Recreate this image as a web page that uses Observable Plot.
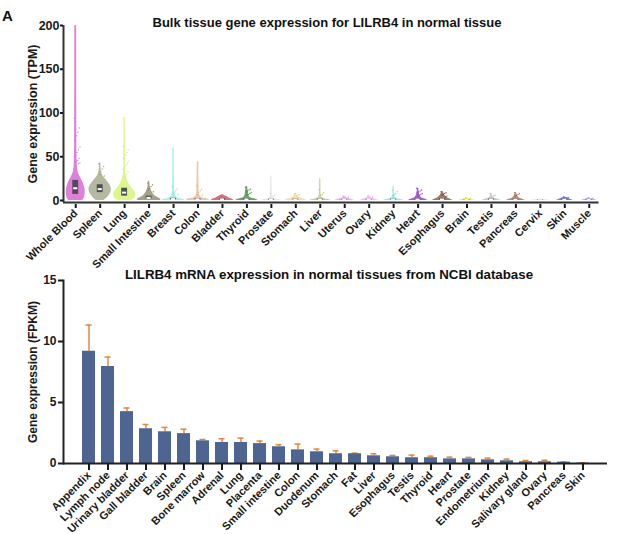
<!DOCTYPE html>
<html>
<head>
<meta charset="utf-8">
<script src="https://cdn.jsdelivr.net/npm/d3@7"></script>
<script src="https://cdn.jsdelivr.net/npm/@observablehq/plot@0.6"></script>
<style>
  body { margin: 0; background: #fff; font-family: "Liberation Sans", Arial, sans-serif; }
  #page { position: relative; width: 620px; height: 534px; overflow: hidden; }
  .panel { position: absolute; left: 0; }
  .title { position: absolute; font-weight: bold; font-size: 13px; line-height: 13px; color: #111; white-space: nowrap; transform: translateX(-50%); }
  .tag { position: absolute; left: 2px; top: 8px; font-weight: bold; font-size: 15px; line-height: 15px; color: #111; }
</style>
</head>
<body>
<div id="page">
  <div class="tag">A</div>
  <div class="title" style="left:327px; top:16px;">Bulk tissue gene expression for LILRB4 in normal tissue</div>
  <div id="top" class="panel" style="top:0px;"></div>
  <div class="title" style="left:329px; top:268px; font-size:13.3px;">LILRB4 mRNA expression in normal tissues from NCBI database</div>
  <div id="bottom" class="panel" style="top:262px;"></div>
</div>
<script>
// ---- GTEx bulk tissue expression (TPM) ----
const gtexTissues = ["Whole Blood", "Spleen", "Lung", "Small Intestine", "Breast", "Colon", "Bladder", "Thyroid",
  "Prostate", "Stomach", "Liver", "Uterus", "Ovary", "Kidney", "Heart", "Esophagus", "Brain", "Testis",
  "Pancreas", "Cervix", "Skin", "Muscle"];

const gtexFill = ["#e07fdb", "#b5b9a0", "#dcf68a", "#a8a184", "#a6f2e4", "#ecc6a6", "#d4727e", "#6ba460",
  "#e6e6e6", "#fcdca8", "#c8d09c", "#eeaef0", "#f4c0f4", "#9ee8e2", "#a460d4", "#a07a66", "#f2e640",
  "#cacaca", "#ba8a70", "#fcd2e2", "#7c7ce8", "#acb2f2"];

const gtexDot = ["#d873d2", "#9a9f84", "#c8ea6a", "#8a8468", "#86e2d4", "#dfae86", "#c25a66", "#3f8a3c",
  "#d2d2d2", "#f4c588", "#b4bc80", "#e090e6", "#ea9cee", "#76d8d0", "#8840c0", "#6a4030", "#e2d420",
  "#acacac", "#a46040", "#f4b4cc", "#5858d8", "#9098e6"];

// density profile per tissue: [TPM, relative density]
const gtexProfiles = [
  [[0, .62], [2, .74], [6, .82], [11, .84], [16, .77], [22, .6], [27, .4], [32, .22], [40, .14], [60, .1], [200, .08]],
  [[0, .35], [3, .6], [8, .9], [13, 1.0], [18, .85], [24, .5], [28, .25], [32, .12], [36, .08], [43, .06]],
  [[0, .55], [3, .9], [7, 1.0], [11, .85], [15, .6], [20, .35], [26, .18], [32, .1], [40, .07], [95, .06]],
  [[0, 1.0], [1.5, 1.05], [3, .85], [5, .55], [8, .35], [12, .18], [16, .1], [22, .06]],
  [[0, .95], [1, 1.0], [2, .6], [4, .25], [8, .12], [15, .08], [60, .06]],
  [[0, .95], [1, 1.0], [2.5, .55], [5, .2], [10, .1], [44, .07]],
  [[0, 1.0], [1, .95], [3, .6], [5, .3], [6.5, .05]],
  [[0, 1.0], [1, .9], [2.5, .45], [5, .2], [10, .12], [16, .06]],
  [[0, 1.0], [1, .7], [2, .3], [4, .12], [10, .07], [28, .05]],
  [[0, .95], [1.5, .8], [3, .4], [5, .18], [8, .05]],
  [[0, .95], [1, .8], [2, .4], [4, .12], [10, .06], [25, .05]],
  [[0, .9], [1, .7], [2.5, .3], [5, .05]],
  [[0, .85], [1, .7], [2.5, .3], [5.5, .05]],
  [[0, .9], [1, .75], [2, .35], [4, .12], [8, .06], [16, .05]],
  [[0, .9], [1, .75], [2.5, .4], [5, .2], [9, .1], [14, .06]],
  [[0, .95], [1, .8], [3, .45], [6, .2], [10, .08]],
  [[0, .8], [1, .5], [2, .2], [3, .05]],
  [[0, .85], [1, .7], [2.5, .3], [5, .1], [8, .05]],
  [[0, .9], [1, .7], [3, .3], [6, .12], [9, .05]],
  [[0, .8], [0.8, .4], [1.5, .05]],
  [[0, .8], [1, .6], [2.5, .3], [4, .05]],
  [[0, .75], [1, .5], [2, .25], [3, .05]]
];

const gtexQ1 = [7, 9, 5, 1.5, 0.8, 0.7, 0.5, 0.6, 0.3, 0.4, 0.4, 0.3, 0.3, 0.4, 0.5, 0.5, 0.2, 0.4, 0.4, 0.1, 0.3, 0.2];
const gtexMedian = [14, 13, 9, 3, 1.6, 1.4, 1.2, 1.2, 0.8, 0.9, 0.9, 0.7, 0.7, 0.9, 1.0, 1.1, 0.5, 0.9, 0.9, 0.3, 0.8, 0.5];
const gtexQ3 = [23, 18, 14, 5, 2.5, 2.3, 2.0, 2.0, 1.4, 1.6, 1.5, 1.2, 1.2, 1.5, 1.8, 2.0, 0.9, 1.6, 1.6, 0.6, 1.4, 1.0];

// individual high samples drawn beside each violin
const gtexOutliers = [
  [94, 83, 78, 74, 69, 61, 58, 55, 52, 50, 48, 46, 45, 44, 43, 42],
  [42, 39, 36, 33, 30, 28],
  [62, 58, 55, 52, 48, 45, 42, 40, 38, 36, 33, 30, 28],
  [20, 18, 16, 14, 12, 10],
  [16, 13, 11, 9, 8, 7],
  [17, 13, 11, 9, 7, 6],
  [5, 4.5],
  [15, 13, 12, 11, 10, 9, 8, 7, 6],
  [8, 6, 5],
  [8, 7, 6, 5],
  [12, 9, 7, 6],
  [5, 4],
  [5, 4],
  [12, 10, 8, 7, 6],
  [14, 12, 11, 10, 9, 8, 7, 6, 5],
  [10, 9, 8, 7, 6, 5, 4],
  [3, 2.5],
  [8, 6, 5],
  [9, 8, 7, 6, 5],
  [1.5],
  [4, 3.5, 3],
  [3, 2.5]
];

// ---- NCBI tissue expression (FPKM, mean and error) ----
const ncbiTissues = ["Appendix", "Lymph node", "Urinary bladder", "Gall bladder", "Brain", "Spleen", "Bone marrow",
  "Adrenal", "Lung", "Placenta", "Small intestine", "Colon", "Duodenum", "Stomach", "Fat", "Liver", "Esophagus",
  "Testis", "Thyroid", "Heart", "Prostate", "Endometrium", "Kidney", "Salivary gland", "Ovary", "Pancreas", "Skin"];
const ncbiMean = [9.2, 7.95, 4.25, 2.85, 2.6, 2.45, 1.86, 1.72, 1.72, 1.63, 1.37, 1.12, 0.96, 0.8, 0.8, 0.63, 0.55,
  0.47, 0.47, 0.38, 0.38, 0.3, 0.22, 0.14, 0.14, 0.11, 0.03];
const ncbiErr = [2.15, 0.77, 0.3, 0.35, 0.36, 0.36, 0.11, 0.31, 0.36, 0.21, 0.17, 0.47, 0.22, 0.24, 0.05, 0.17, 0.11,
  0.22, 0.13, 0.14, 0.12, 0.14, 0.14, 0.11, 0.13, 0.02, 0.03];

const yTicksTPM = [0, 50, 100, 150, 200];
const yTicksFPKM = [0, 5, 10, 15];

// ---- build tables ----
const HALF = 0.46;   // widest half-violin, in category steps
const BOXHALF = 0.12;

const violinRows = gtexTissues.flatMap((t, i) =>
  gtexProfiles[i].map(([v, d]) => ({tissue: t, i, v, d, fill: gtexFill[i]})));

const boxRows = gtexTissues.map((t, i) => ({tissue: t, i, q1: gtexQ1[i], med: gtexMedian[i], q3: gtexQ3[i]}));

const dotRows = gtexTissues.flatMap((t, i) =>
  gtexOutliers[i].map((v, k) => ({i, v, k, fill: gtexDot[i]})));

const barRows = ncbiTissues.map((t, i) => ({tissue: t, mean: ncbiMean[i], hi: ncbiMean[i] + ncbiErr[i]}));

const baseStyle = {
  fontFamily: "'Liberation Sans', Arial, sans-serif",
  fontWeight: "bold",
  fontSize: "11px",
  color: "#1a1a1a",
  background: "transparent",
  overflow: "visible"
};

const topChart = Plot.plot({
  width: 620,
  height: 272,
  marginTop: 25,
  marginBottom: 70,
  marginLeft: 63,
  marginRight: 19,
  style: baseStyle,
  x: {domain: [-0.5, 21.5]},
  y: {domain: [0, 200], insetBottom: 2},
  color: {type: "identity"},
  marks: [
    Plot.areaX(violinRows, {
      y: "v",
      x1: d => d.i - d.d * HALF,
      x2: d => d.i + d.d * HALF,
      z: "tissue",
      fill: "fill",
      curve: "monotone-y"
    }),
    Plot.dot(dotRows, {
      x: "i",
      y: "v",
      r: 0.7,
      fill: "fill",
      fillOpacity: 0.85,
      stroke: null,
      className: "sample"
    }),
    Plot.rect(boxRows, {
      x1: d => d.i - BOXHALF,
      x2: d => d.i + BOXHALF,
      y1: "q1",
      y2: "q3",
      fill: "#4b4f58"
    }),
    Plot.ruleY(boxRows, {
      y: "med",
      x1: d => d.i - BOXHALF * 0.7,
      x2: d => d.i + BOXHALF * 0.7,
      stroke: "#ffffff",
      strokeWidth: 2
    }),
    Plot.ruleY([0], {x1: -0.5, x2: 21.4, dy: 2, stroke: "#333", strokeWidth: 2}),
    Plot.ruleX([-0.5], {stroke: "#333", strokeWidth: 2}),
    Plot.axisX({
      ticks: d3.range(gtexTissues.length),
      tickFormat: i => gtexTissues[i],
      tickRotate: -45,
      tickSize: 4,
      tickPadding: 3,
      strokeWidth: 2,
      dy: 2,
      fontSize: 11,
      label: null
    }),
    Plot.axisY({
      ticks: yTicksTPM,
      tickSize: 3,
      tickPadding: 1,
      strokeWidth: 2,
      fontSize: 12.5,
      label: "Gene expression (TPM)",
      labelAnchor: "center",
      labelArrow: "none",
      labelOffset: 35
    })
  ]
});

// spread the individual samples a little to the side of each violin
d3.select(topChart).selectAll(".sample circle").attr("transform", function(_, j) {
  const k = dotRows[j] ? dotRows[j].k : 0;
  return `translate(${((k * 7) % 9 - 2) * 0.7},0)`;
});

const bottomChart = Plot.plot({
  width: 620,
  height: 272,
  marginTop: 18,
  marginBottom: 71,
  marginLeft: 63,
  marginRight: 13,
  style: baseStyle,
  x: {domain: ncbiTissues, paddingInner: 0.29, paddingOuter: 0.15, insetLeft: 6, insetRight: 4},
  y: {domain: [0, 15]},
  marks: [
    Plot.ruleX(barRows, {x: "tissue", y1: "mean", y2: "hi", stroke: "#e8873a", strokeWidth: 1.5}),
    Plot.tickY(barRows, {x: "tissue", y: "hi", stroke: "#e8873a", strokeWidth: 1.5, insetLeft: 3.5, insetRight: 3.5}),
    Plot.barY(barRows, {x: "tissue", y: "mean", fill: "#4d6590"}),
    Plot.ruleY([0], {stroke: "#222", strokeWidth: 2}),
    Plot.frame({anchor: "left", stroke: "#222", strokeWidth: 2}),
    Plot.axisX({
      tickRotate: -45,
      tickSize: 7,
      tickPadding: 3,
      strokeWidth: 2,
      fontSize: 11,
      label: null
    }),
    Plot.axisY({
      ticks: yTicksFPKM,
      tickSize: 5,
      tickPadding: 2,
      strokeWidth: 2,
      fontSize: 12,
      label: "Gene expression (FPKM)",
      labelAnchor: "center",
      labelArrow: "none",
      labelOffset: 35
    })
  ]
});

document.getElementById("top").appendChild(topChart);
document.getElementById("bottom").appendChild(bottomChart);
</script>
</body>
</html>
